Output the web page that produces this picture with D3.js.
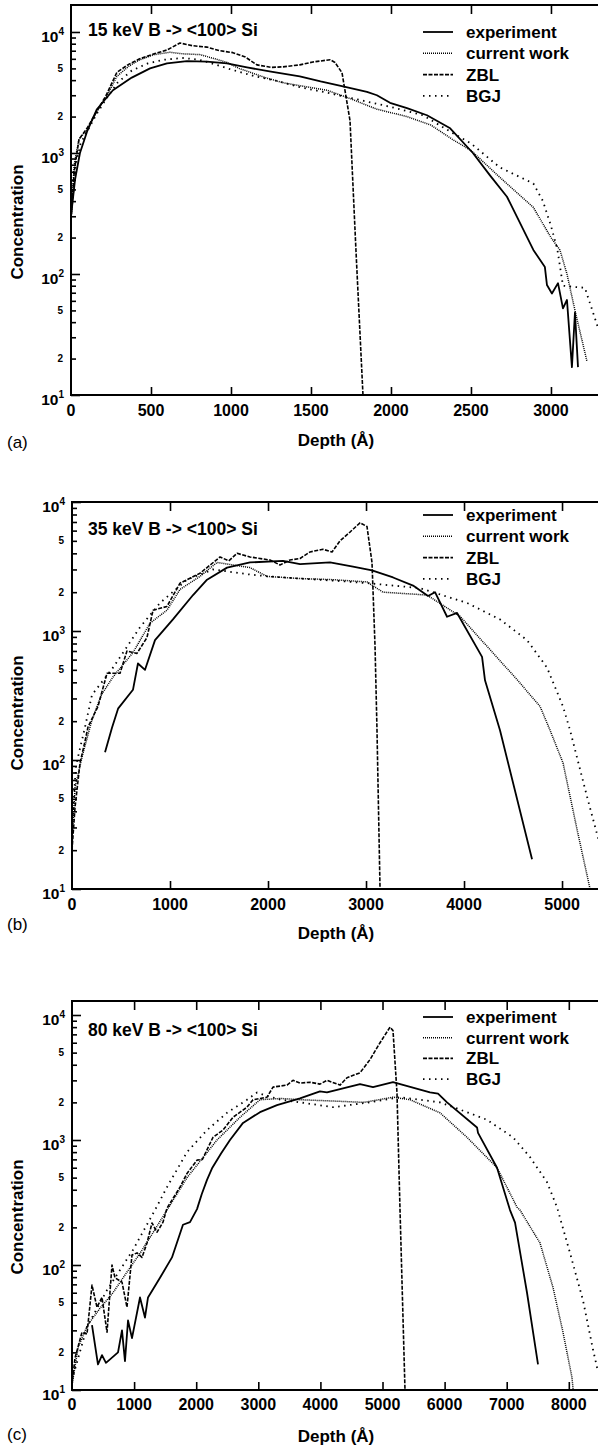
<!DOCTYPE html>
<html>
<head>
<meta charset="utf-8">
<script src="https://cdn.jsdelivr.net/npm/d3@7"></script>
<style>
  html, body { margin: 0; padding: 0; background: #fff; }
  svg { display: block; }
  text { font-family: "Liberation Sans", Arial, Helvetica, sans-serif; fill: #000; }
  .bold { font-weight: bold; }
  .axis path { display: none; }
  .axis line { stroke: #000; stroke-width: 1.6; }
</style>
</head>
<body>
<svg id="chart"></svg>
<script>
const width = 598;
const height = 1448;

// ---- data (depth in Angstrom, concentration) ----
const seriesNames = ['experiment', 'current work', 'ZBL', 'BGJ'];
const titles = ['15 keV B -> <100> Si', '35 keV B -> <100> Si', '80 keV B -> <100> Si'];
const panelTags = ['(a)', '(b)', '(c)'];

const xTicksA = [0, 500, 1000, 1500, 2000, 2500, 3000];
const xTicksB = [0, 1000, 2000, 3000, 4000, 5000];
const xTicksC = [0, 1000, 2000, 3000, 4000, 5000, 6000, 7000, 8000];
const decades = [10, 100, 1000, 10000];
const minorLabels = [20, 50, 200, 500, 2000, 5000];

const expA = [[0,300],[25,600],[56,1000],[100,1500],[162,2300],[262,3300],[380,4200],[494,5000],[600,5500],[725,5750],[850,5700],[975,5500],[1100,5100],[1250,4700],[1430,4300],[1560,3900],[1700,3550],[1850,3200],[1912,3000],[1994,2600],[2100,2350],[2225,2050],[2370,1600],[2512,1000],[2620,650],[2725,435],[2890,158],[2962,114],[2975,81],[3006,69],[3044,84],[3075,52],[3100,61],[3131,17],[3150,48],[3169,17]];
const curA = [[0,280],[20,800],[50,1300],[100,1550],[160,2200],[220,2900],[287,4300],[360,5200],[431,5900],[520,6500],[619,6800],[700,6600],[806,6500],[900,6000],[975,5600],[1050,5000],[1119,4650],[1225,4150],[1330,3800],[1430,3600],[1600,3300],[1750,2800],[1912,2300],[2100,2000],[2250,1700],[2390,1280],[2500,1050],[2680,630],[2890,355],[3000,200],[3056,158],[3100,100],[3150,50],[3225,19]];
const zblA = [[0,280],[20,700],[50,1300],[100,1600],[160,2200],[220,3000],[287,4650],[360,5400],[430,6000],[520,6600],[600,7100],[681,8100],[760,7700],[850,7500],[930,7000],[1012,6750],[1090,6200],[1162,5350],[1250,5100],[1325,5150],[1430,5350],[1512,5650],[1620,5900],[1650,5600],[1694,4600],[1744,1850],[1781,158],[1825,10]];
const bgjA = [[0,300],[30,800],[60,1200],[100,1500],[160,2100],[220,2800],[290,3800],[380,4800],[480,5500],[580,5900],[700,6100],[800,5900],[900,5400],[1000,4900],[1150,4300],[1300,3900],[1430,3500],[1600,3150],[1800,2750],[2000,2400],[2200,2050],[2390,1450],[2500,1200],[2680,760],[2890,560],[2950,400],[3000,250],[3040,160],[3075,80],[3150,78],[3212,77],[3294,36],[3340,28]];

const expB = [[337,115],[408,178],[470,250],[622,350],[673,560],[745,500],[847,850],[1030,1230],[1235,1900],[1378,2500],[1582,3100],[1816,3400],[2153,3500],[2327,3300],[2633,3400],[2867,3150],[3061,2950],[3276,2600],[3480,2250],[3633,1870],[3704,2000],[3827,1290],[3929,1380],[4184,630],[4214,415],[4367,170],[4694,17]];
const curB = [[0,24],[31,61],[102,105],[200,200],[300,320],[418,440],[622,680],[796,1150],[969,1450],[1102,2100],[1306,2650],[1480,3400],[1643,3250],[1816,3100],[1990,2650],[2327,2550],[2663,2500],[3010,2400],[3173,2000],[3622,1900],[3959,1300],[4235,760],[4541,420],[4776,260],[4878,170],[5010,95],[5153,29],[5286,10]];
const zblB = [[0,20],[31,43],[82,95],[133,140],[163,180],[265,260],[357,470],[490,470],[561,700],[663,670],[765,890],[827,1450],[969,1550],[1102,2350],[1306,2800],[1510,3750],[1600,3500],[1684,4000],[1816,3750],[2020,3550],[2122,3250],[2224,3550],[2327,3650],[2429,4100],[2561,4300],[2653,4100],[2735,5000],[2837,5850],[2939,6900],[3010,6450],[3061,3400],[3092,760],[3112,170],[3143,10]];
const bgjB = [[0,30],[40,90],[133,180],[204,320],[418,520],[694,1070],[898,1650],[1173,2500],[1439,3000],[1580,2900],[1800,2750],[2000,2650],[2327,2550],[2700,2450],[3010,2350],[3551,2150],[4031,1650],[4367,1230],[4643,850],[4847,520],[5010,260],[5082,170],[5255,52],[5367,25],[5420,20]];

const expC = [[322,33],[418,16],[483,19],[547,16.5],[741,20],[805,30],[853,17],[902,36],[966,26],[1095,55],[1175,38],[1224,55],[1417,79],[1610,115],[1787,210],[1900,220],[2013,280],[2090,370],[2174,480],[2260,600],[2400,780],[2544,1000],[2754,1370],[3027,1670],[3301,1900],[3671,2150],[3993,2450],[4106,2400],[4638,2800],[4847,2650],[5169,2900],[5765,2400],[5894,2350],[6039,2000],[6522,1260],[6538,1140],[6844,600],[7053,275],[7134,218],[7327,60],[7504,16]];
const curC = [[0,11],[100,22],[250,33],[450,45],[660,60],[900,90],[1100,125],[1300,180],[1530,275],[1852,500],[2335,1000],[2705,1520],[3027,2100],[3365,2150],[3671,2100],[4203,2050],[4700,2000],[5169,2200],[5443,2100],[5926,1650],[6361,1050],[6844,600],[7166,290],[7214,275],[7536,150],[7746,66],[7906,29],[8051,12.6],[8070,10]];
const zblC = [[0,11],[48,18],[161,29],[241,28],[322,69],[402,46],[483,55],[564,29],[644,100],[692,79],[805,73],[885,46],[966,120],[1047,125],[1127,115],[1208,150],[1288,217],[1369,183],[1465,220],[1530,285],[1739,420],[1852,540],[2013,690],[2100,700],[2270,1050],[2431,1200],[2593,1520],[2818,1830],[2915,2100],[3030,2150],[3140,2200],[3237,2650],[3462,2750],[3559,3000],[3671,2850],[3830,2900],[3993,2800],[4106,3000],[4316,2750],[4428,3150],[4638,3450],[4799,4400],[4960,6000],[5121,8000],[5169,7500],[5233,2400],[5282,275],[5362,10]];
const bgjC = [[0,12],[241,32],[564,63],[982,132],[1336,275],[1530,420],[1852,800],[2174,1200],[2496,1650],[2818,2100],[2980,2400],[3140,2250],[3365,2100],[3671,2000],[4203,1830],[4799,2000],[5282,2200],[5926,2000],[6361,1670],[6683,1450],[7102,1050],[7375,730],[7649,460],[7810,290],[8019,125],[8229,52],[8390,21],[8470,14]];

// ---- layout ----
const styles = [
    {width: 1.8, dash: null},
    {width: 1.5, dash: '1,1'},
    {width: 1.6, dash: '4,1.5'},
    {width: 1.8, dash: '1.5,4.5'}
];

const panels = [
    {top: 5, bottom: 395, left: 71, xMax: 3294, yMax: Math.pow(10, 4.223), xTicks: xTicksA,
     series: [expA, curA, zblA, bgjA], titleY: 36, legendY: 32, legendStep: 21.3,
     tickY: 416, depthY: 446, tagY: 448, concY: 222},
    {top: 502, bottom: 889, left: 72, xMax: 5367, yMax: 10000, xTicks: xTicksB,
     series: [expB, curB, zblB, bgjB], titleY: 535, legendY: 515, legendStep: 21.3,
     tickY: 910, depthY: 939, tagY: 930, concY: 713},
    {top: 1001, bottom: 1390, left: 72, xMax: 8470, yMax: Math.pow(10, 4.112), xTicks: xTicksC,
     series: [expC, curC, zblC, bgjC], titleY: 1036, legendY: 1017, legendStep: 20.7,
     tickY: 1410, depthY: 1442, tagY: 1440, concY: 1217}
];

const svg = d3.select('#chart')
    .attr('width', width)
    .attr('height', height);

const defs = svg.append('defs');

panels.forEach((p, i) => drawPanel(p, i));

function drawPanel(p, i) {
    const right = width;
    const x = d3.scaleLinear().domain([0, p.xMax]).range([p.left, right]);
    const y = d3.scaleLog().domain([10, p.yMax]).range([p.bottom, p.top]);

    const g = svg.append('g');

    defs.append('clipPath')
        .attr('id', 'clip' + i)
        .append('rect')
        .attr('x', p.left)
        .attr('y', p.top)
        .attr('width', right - p.left)
        .attr('height', p.bottom - p.top);

    // curves
    const line = d3.line()
        .x(d => x(d[0]))
        .y(d => y(d[1]));

    g.append('g')
        .attr('clip-path', `url(#clip${i})`)
        .selectAll('path.curve')
        .data(p.series)
        .join('path')
        .attr('class', 'curve')
        .attr('d', line)
        .attr('fill', 'none')
        .attr('stroke', '#000')
        .attr('stroke-width', (d, k) => styles[k].width)
        .attr('stroke-dasharray', (d, k) => styles[k].dash)
        .attr('stroke-linejoin', 'round');

    // inward ticks, bottom and top
    const xTickVals = p.xTicks.filter(v => v > 0);
    g.append('g')
        .attr('class', 'axis')
        .attr('transform', `translate(0,${p.bottom})`)
        .call(d3.axisTop(x).tickValues(xTickVals).tickSize(8).tickFormat(''));
    g.append('g')
        .attr('class', 'axis')
        .attr('transform', `translate(0,${p.top})`)
        .call(d3.axisBottom(x).tickValues(xTickVals).tickSize(9).tickFormat(''));

    // left axis, inward ticks
    const minor = [];
    [10, 100, 1000, 10000].forEach(dec => {
        for (let m = 2; m <= 9; m++) {
            const v = dec * m;
            if (v < p.yMax) minor.push(v);
        }
    });
    g.append('g')
        .attr('class', 'axis')
        .attr('transform', `translate(${p.left},0)`)
        .call(d3.axisRight(y).tickValues(minor).tickSize(5).tickFormat(''));
    g.append('g')
        .attr('class', 'axis')
        .attr('transform', `translate(${p.left},0)`)
        .call(d3.axisRight(y).tickValues(decades).tickSize(9).tickFormat(''));

    // frame
    g.append('path')
        .attr('d', `M${right},${p.top}H${p.left}V${p.bottom}H${right}`)
        .attr('fill', 'none')
        .attr('stroke', '#000')
        .attr('stroke-width', 2);

    // x tick labels
    g.selectAll('text.xtick')
        .data(p.xTicks)
        .join('text')
        .attr('class', 'xtick bold')
        .attr('x', d => x(d))
        .attr('y', p.tickY)
        .attr('text-anchor', 'middle')
        .attr('font-size', 16)
        .text(d => d);

    // y decade labels
    const dl = g.selectAll('text.ydec')
        .data(decades)
        .join('text')
        .attr('class', 'ydec bold')
        .attr('x', p.left - 7)
        .attr('y', d => y(d) + 10)
        .attr('text-anchor', 'end')
        .attr('font-size', 15.5);
    dl.append('tspan').text('10');
    dl.append('tspan')
        .attr('dy', -7)
        .attr('font-size', 10)
        .text(d => Math.round(Math.log10(d)));

    // minor labels 2 and 5
    g.selectAll('text.yminor')
        .data(minorLabels.filter(v => v < p.yMax))
        .join('text')
        .attr('class', 'yminor bold')
        .attr('x', p.left - 8)
        .attr('y', d => y(d) + 3.5)
        .attr('text-anchor', 'end')
        .attr('font-size', 10)
        .text(d => String(d)[0]);

    // title
    g.append('text')
        .attr('class', 'bold')
        .attr('x', 88)
        .attr('y', p.titleY)
        .attr('font-size', 17.5)
        .text(titles[i]);

    // legend
    const leg = g.selectAll('g.leg')
        .data(seriesNames)
        .join('g')
        .attr('class', 'leg')
        .attr('transform', (d, k) => `translate(423,${p.legendY + k * p.legendStep})`);
    leg.append('line')
        .attr('x1', 0).attr('x2', 30)
        .attr('stroke', '#000')
        .attr('stroke-width', (d, k) => styles[k].width)
        .attr('stroke-dasharray', (d, k) => styles[k].dash);
    leg.append('text')
        .attr('class', 'bold')
        .attr('x', 43)
        .attr('y', 6)
        .attr('font-size', 17)
        .text(d => d);

    // axis titles
    g.append('text')
        .attr('class', 'bold')
        .attr('x', 336)
        .attr('y', p.depthY)
        .attr('text-anchor', 'middle')
        .attr('font-size', 17)
        .text('Depth (Å)');

    g.append('text')
        .attr('class', 'bold')
        .attr('transform', `translate(23,${p.concY}) rotate(-90)`)
        .attr('text-anchor', 'middle')
        .attr('font-size', 17)
        .text('Concentration');

    g.append('text')
        .attr('x', 7)
        .attr('y', p.tagY)
        .attr('font-size', 17)
        .text(panelTags[i]);
}
</script>
</body>
</html>
